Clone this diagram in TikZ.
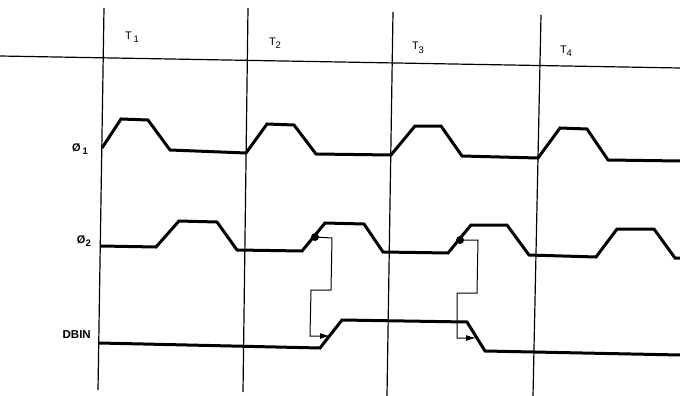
\documentclass[tikz,border=0pt]{standalone}
\usepackage{fontspec}
\setmainfont{Liberation Sans}
\usetikzlibrary{arrows.meta}
\newcommand{\subdig}[1]{\raisebox{-3.5pt}{\fontsize{9.5}{10}\selectfont #1}}
\begin{document}
\begin{tikzpicture}[x=1pt,y=-1pt,
  grid/.style={line width=1.2pt},
  wave/.style={line width=3pt,line join=miter},
  wire/.style={line width=1pt},
  arr/.style={wire,-{Latex[length=10pt,width=6pt]}},
  dotnode/.style={circle,fill,inner sep=0pt,minimum size=8pt},
  tlab/.style={font=\fontsize{11}{12}\selectfont,inner sep=0pt},
  slab/.style={font=\bfseries\fontsize{11}{12}\selectfont,inner sep=0pt,anchor=east}]
\useasboundingbox (0,0) rectangle (680,396);
% time grid
\draw[grid] (104,8) -- (98,390);
\draw[grid] (248,8) -- (243,392);
\draw[grid] (393,12) -- (387,396);
\draw[grid] (541,15) -- (533,396);
\draw[grid] (0,56) -- (680,68);
\node[tlab] (t1) at (132,37) {T\,\subdig{1}};
\node[tlab] (t2) at (275,43) {T\subdig{2}};
\node[tlab] (t3) at (418,48) {T\subdig{3}};
\node[tlab] (t4) at (566,51) {T\subdig{4}};
% signal labels
\node[slab] (p1) at (88,149) {Ø\,\subdig{1}};
\node[slab] (p2) at (91,241) {Ø\subdig{2}};
\node[slab,font=\bfseries\fontsize{11.5}{12}\selectfont] (db) at (91,335) {DBIN};
% phi1
\draw[wave] (102,148) -- (121,119) -- (148,120) -- (170,150) -- (246,153)
  -- (267,124) -- (294,125) -- (316,154) -- (391,155) -- (415,126) -- (441,126)
  -- (462,156) -- (538,158) -- (560,128) -- (587,129) -- (608,160) -- (680,161);
% phi2
\draw[wave] (101,246) -- (156,247) -- (179,221) -- (217,222) -- (237,250) -- (302,251)
  -- (325,223) -- (364,224) -- (383,252) -- (448,253) -- (471,225) -- (507,225)
  -- (529,255) -- (596,257) -- (617,229) -- (654,229) -- (675,258) -- (680,258);
% DBIN
\draw[wave] (99,343) -- (320,348) -- (342,320) -- (467,322) -- (485,351) -- (680,355);
% sampling dots and arrows
\node[dotnode] (d1) at (315,237) {};
\node[dotnode] (d2) at (460,240) {};
\coordinate (e1) at (330,336);
\coordinate (e2) at (476,338);
\draw[arr] (d1.center) -- (332,238) -- (331,290) -- (311,290) -- (310,336) -- (e1);
\draw[arr] (d2.center) -- (478,240) -- (477,293) -- (457,293) -- (457,338) -- (e2);
\end{tikzpicture}
\end{document}
